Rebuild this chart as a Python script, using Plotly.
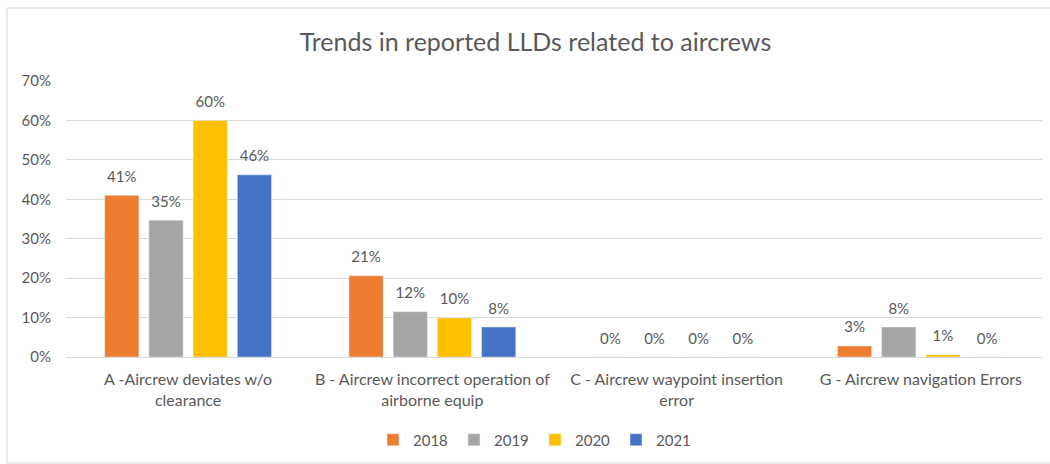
import plotly.graph_objects as go

categories = [
    "A -Aircrew deviates w/o<br>clearance",
    "B - Aircrew incorrect operation of<br>airborne equip",
    "C - Aircrew waypoint insertion<br>error",
    "G - Aircrew navigation Errors",
]
years = ["2018", "2019", "2020", "2021"]
v2018 = [0.41, 0.206, 0.0, 0.028]
v2019 = [0.347, 0.115, 0.0, 0.076]
v2020 = [0.60, 0.099, 0.0, 0.006]
v2021 = [0.462, 0.076, 0.0, 0.0]
series = [v2018, v2019, v2020, v2021]
colors = ["#ED7D31", "#A5A5A5", "#FFC000", "#4472C4"]

FONT = "Lato"
TXT = "#595959"

L, R, T, B = 66, 7, 81, 107
PW = 1050 - L - R
PH = 464 - T - B

fig = go.Figure()
for name, vals, col in zip(years, series, colors):
    fig.add_trace(go.Bar(
        x=categories, y=vals, name=name, marker_color=col,
        offsetgroup=name, alignmentgroup="g",
    ))
for name, vals in zip(years, series):
    fig.add_trace(go.Scatter(
        x=categories, y=vals, mode="markers+text",
        text=[f"{round(v*100):.0f}%" for v in vals],
        textposition="top center",
        textfont=dict(family=FONT, size=15, color=TXT),
        marker=dict(size=14, opacity=0),
        offsetgroup=name, alignmentgroup="g",
        showlegend=False, hoverinfo="skip", cliponaxis=False,
    ))

GAP = 0.276
fig.update_layout(
    width=1050, height=464,
    margin=dict(l=L, r=R, t=T, b=B),
    paper_bgcolor="white", plot_bgcolor="white",
    barmode="group", bargap=GAP, bargroupgap=0.226,
    scattermode="group", scattergap=GAP,
    font=dict(family=FONT, color=TXT),
    title=dict(text="Trends in reported LLDs related to aircrews",
               x=0.51, xref="container", xanchor="center",
               y=1 - 42 / 464, yref="container", yanchor="middle",
               font=dict(family=FONT, size=25, color=TXT)),
    legend=dict(orientation="h", x=(535 - L) / PW, xanchor="center",
                y=(357 - 440) / PH, yanchor="middle",
                font=dict(family=FONT, size=15, color=TXT),
                itemwidth=30, entrywidth=36, entrywidthmode="pixels",
                traceorder="normal"),
    showlegend=True,
)
fig.update_yaxes(range=[0, 0.7], dtick=0.1, tickformat=".0%",
                 gridcolor="#D9D9D9", gridwidth=1, zeroline=False,
                 showline=False, ticks="", ticklabelstandoff=14,
                 tickfont=dict(family=FONT, size=15, color=TXT))
fig.update_xaxes(showline=True, linecolor="#D9D9D9", linewidth=1,
                 ticks="", ticklabelstandoff=8,
                 tickfont=dict(family=FONT, size=16, color=TXT))
fig.add_shape(type="rect", xref="paper", yref="paper",
              x0=(7 - L) / PW, x1=(1060 - L) / PW,
              y0=(357 - 463) / PH, y1=(357 - 8) / PH,
              line=dict(color="#D9D9D9", width=1), fillcolor="rgba(0,0,0,0)",
              layer="below")

fig.write_html("out.html")
